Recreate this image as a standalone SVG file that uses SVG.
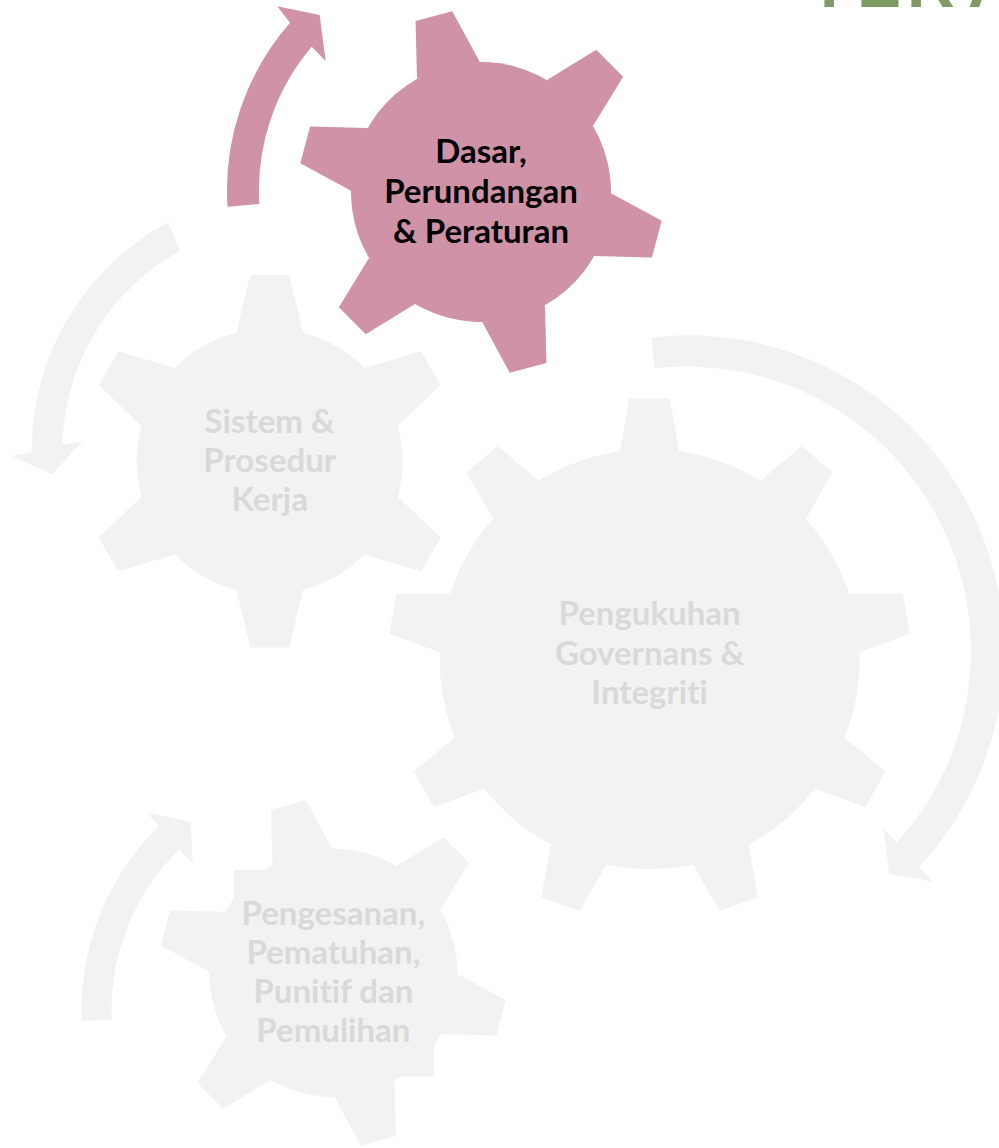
<svg xmlns="http://www.w3.org/2000/svg" xmlns:xlink="http://www.w3.org/1999/xlink" width="999" height="1148" viewBox="0 0 999 1148">
  <style>
    .pink { fill: #d092a7; }
    .grey { fill: #f2f2f2; }
    .label { font-family: Lato, "Liberation Sans", sans-serif; font-weight: 700; font-size: 33px; text-anchor: middle; font-variant-ligatures: none; }
    .label-on { fill: #000000; }
    .label-off { fill: #d9d9d9; }
  </style>
  <defs>
    <!-- six-tooth gear, body radius 130, teeth at 0,60,...,300 degrees -->
    <polygon id="tooth6" points="125.9,-32.5 182,-19 182,19 125.9,32.5"/>
    <g id="gear6">
      <circle r="130"/>
      <use xlink:href="#tooth6"/>
      <use xlink:href="#tooth6" transform="rotate(60)"/>
      <use xlink:href="#tooth6" transform="rotate(120)"/>
      <use xlink:href="#tooth6" transform="rotate(180)"/>
      <use xlink:href="#tooth6" transform="rotate(240)"/>
      <use xlink:href="#tooth6" transform="rotate(300)"/>
    </g>
    <!-- nine-tooth gear, body radius 210 -->
    <polygon id="tooth9" points="207.9,-29.6 260.7,-20.3 260.7,20.3 207.9,29.6"/>
    <g id="gear9">
      <circle r="210"/>
      <use xlink:href="#tooth9" transform="rotate(30)"/>
      <use xlink:href="#tooth9" transform="rotate(70)"/>
      <use xlink:href="#tooth9" transform="rotate(110)"/>
      <use xlink:href="#tooth9" transform="rotate(150)"/>
      <use xlink:href="#tooth9" transform="rotate(190)"/>
      <use xlink:href="#tooth9" transform="rotate(230)"/>
      <use xlink:href="#tooth9" transform="rotate(270)"/>
      <use xlink:href="#tooth9" transform="rotate(310)"/>
      <use xlink:href="#tooth9" transform="rotate(350)"/>
    </g>
  </defs>

  <!-- heading, mostly above the top edge -->
  <text x="820 857 907 968" y="7" font-family="'Liberation Sans', Arial, sans-serif" font-weight="700" font-size="66" fill="#7f9a65">PERA</text>

  <!-- circular arrows around the gears -->
  <g id="connectors">
    <path class="grey" d="M168.3,222.3 A259,259 0 0 0 31.7,452.3 L11.7,455.7 L51.7,474.3 L82.7,441 L62.3,445 A228,228 0 0 1 180,251 Z"/>
    <path class="grey" d="M651.7,337.3 A316,316 0 0 1 919.3,866.7 L932.7,881.7 L889.3,874 L883.3,828.3 L896.7,842.7 A284.5,284.5 0 0 0 654.3,368.3 Z"/>
    <path class="grey" d="M81.7,1021 A256,256 0 0 1 159.3,826 L147.3,812.7 L190.7,821.7 L192.7,863.3 L179.3,849.3 A225,225 0 0 0 111.7,1019.5 Z"/>
    <path class="pink" d="M227.5,206.7 A254.5,254.5 0 0 1 290,22.7 L277.3,6.3 L319.6,15 L325.7,61 L311.7,46.7 A222.5,222.5 0 0 0 259.3,204 Z"/>
  </g>

  <g id="node-sistem">
    <use xlink:href="#gear6" class="grey" transform="translate(269.7,461.3) rotate(30) scale(1.023)"/>
    <text class="label label-off" x="269.7" y="432.7">Sistem &amp;</text>
    <text class="label label-off" x="269.7" y="471.7">Prosedur</text>
    <text class="label label-off" x="269.7" y="511">Kerja</text>
  </g>

  <g id="node-pengukuhan">
    <use xlink:href="#gear9" class="grey" transform="translate(649.6,659.1)"/>
    <text class="label label-off" x="649.6" y="625.3">Pengukuhan</text>
    <text class="label label-off" x="649.6" y="664.8">Governans &amp;</text>
    <text class="label label-off" x="649.6" y="704.3">Integriti</text>
  </g>

  <g id="node-pengesanan">
    <use xlink:href="#gear6" class="grey" transform="translate(333.4,972.9) rotate(15) scale(0.955)"/>
    <rect class="grey" x="234" y="870" width="40" height="40"/>
    <rect class="grey" x="394" y="1037" width="40" height="39.7"/>
    <text class="label label-off" x="333.4" y="925">Pengesanan,</text>
    <text class="label label-off" x="333.4" y="964">Pematuhan,</text>
    <text class="label label-off" x="333.4" y="1003.3">Punitif dan</text>
    <text class="label label-off" x="333.4" y="1042.3">Pemulihan</text>
  </g>

  <g id="node-dasar">
    <use xlink:href="#gear6" class="pink" transform="translate(481,192) rotate(15)"/>
    <text class="label label-on" x="481" y="163.3">Dasar,</text>
    <text class="label label-on" x="481" y="202.7">Perundangan</text>
    <text class="label label-on" x="481" y="242.7">&amp; Peraturan</text>
  </g>
</svg>
